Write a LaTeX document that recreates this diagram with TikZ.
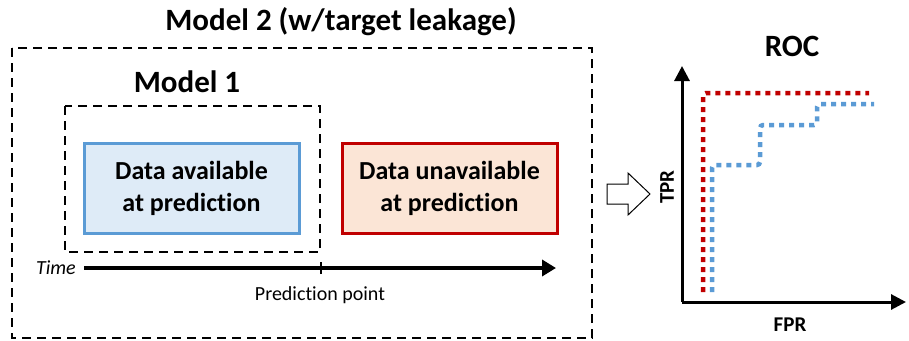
\documentclass[tikz,border=0pt]{standalone}
\usepackage{fontspec}
\setmainfont{Carlito}[Ligatures=NoCommon]
\usetikzlibrary{arrows.meta}
\definecolor{bluefill}{HTML}{DEEBF7}
\definecolor{blueline}{HTML}{5B9BD5}
\definecolor{redfill}{HTML}{FBE5D6}
\definecolor{redline}{HTML}{C00000}
\tikzset{
  modelbox/.style={draw=black, line width=1.8pt, dash pattern=on 9pt off 6pt},
  databox/.style={line width=3pt, minimum width=215pt, minimum height=90pt, align=center,
    font=\fontsize{26}{32}\selectfont\bfseries, inner sep=0pt},
  heading/.style={font=\fontsize{31}{36}\selectfont\bfseries, inner sep=0pt},
  axislabel/.style={font=\fontsize{21}{25}\selectfont\bfseries, inner sep=0pt},
  rocline/.style={line width=4.5pt, dash pattern=on 5pt off 5pt, rounded corners=3pt},
}
\begin{document}
\begin{tikzpicture}[x=1pt, y=-1pt]
\useasboundingbox (0,0) rectangle (909,340);

% titles
\node[heading] (t2) at (341,22) {Model 2 (w/target leakage)};
\node[heading] (t1) at (187,82) {Model 1};

% model frames
\draw[modelbox] (12,48) rectangle (592,338);
\draw[modelbox] (65,106) rectangle (320,252);

% data blocks
\node[databox, draw=blueline, fill=bluefill] (avail) at (191.5,188) {Data available\\at prediction};
\node[databox, draw=redline, fill=redfill] (unavail) at (449.5,188) {Data unavailable\\at prediction};

% time axis
\node[font=\fontsize{20}{24}\selectfont\itshape, anchor=east, inner sep=0pt] (time) at (76,268) {Time};
\coordinate (tend) at (556,268);
\draw[line width=4pt, -{Triangle[length=14pt, width=16pt]}] (84,268) -- (tend);
\coordinate (pp) at (321,268);
\draw[line width=2pt] ([yshift=-6pt]pp) -- ([yshift=6pt]pp);
\node[font=\fontsize{20}{24}\selectfont, inner sep=0pt] (pplabel) at (320,295) {Prediction point};

% hollow arrow
\draw[line width=1pt, fill=white] (607,184) -- (628,184) -- (628,173) -- (650,194) -- (628,215) -- (628,204) -- (607,204) -- cycle;

% ROC plot
\node[heading] (roc) at (792,46) {ROC};
\coordinate (origin) at (682,302);
\draw[line width=3pt, -{Triangle[length=15pt, width=15pt]}] (origin) -- (682,66);
\draw[line width=3pt, -{Triangle[length=15pt, width=15pt]}] (origin) -- (906,302);
\node[axislabel, rotate=90] (tpr) at (667,187) {TPR};
\node[axislabel] (fpr) at (790,325) {FPR};

\draw[rocline, draw=redline] (703,292) -- (703,93) -- (869,93);
\draw[rocline, draw=blueline] (712,292) -- (712,165) -- (760,165) -- (760,125) -- (817,125) -- (817,104) -- (874,104);
\end{tikzpicture}
\end{document}
